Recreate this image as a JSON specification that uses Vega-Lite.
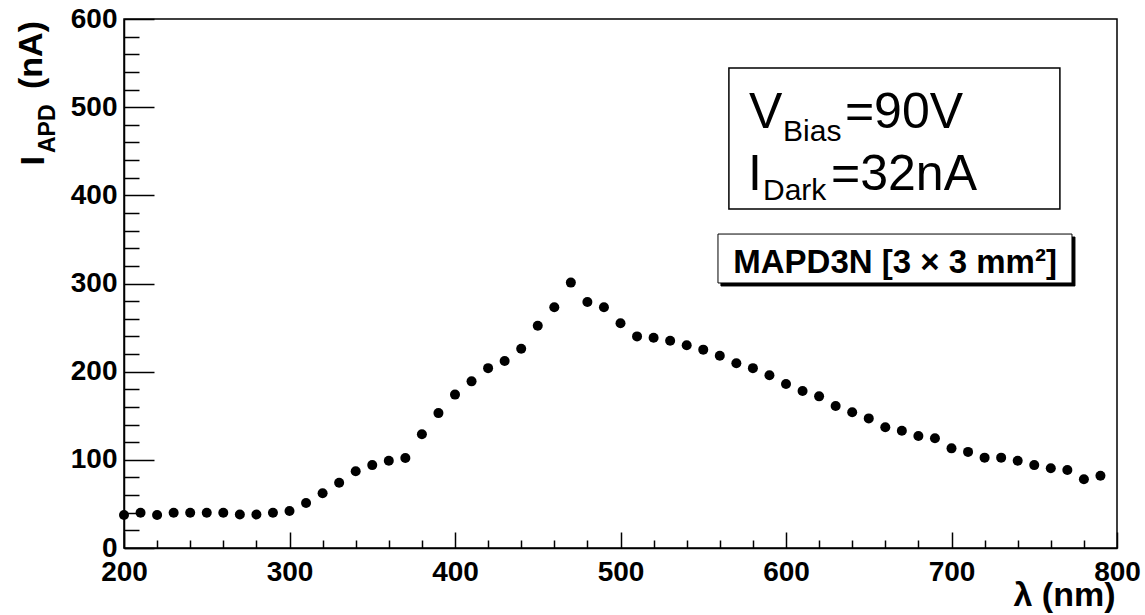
{
  "$schema": "https://vega.github.io/schema/vega-lite/v6.json",
  "width": 993,
  "height": 529,
  "autosize": {"type": "none"},
  "padding": {"left": 124, "top": 19, "right": 28, "bottom": 67},
  "background": "white",
  "resolve": {"axis": {"x": "independent", "y": "independent"}},
  "config": {
    "view": {"stroke": "black", "strokeWidth": 1.5},
    "font": "Liberation Sans",
    "axis": {
      "grid": false,
      "domainColor": "black",
      "domainWidth": 1.5,
      "tickColor": "black",
      "tickWidth": 1.5,
      "labelColor": "black",
      "labelFont": "Liberation Sans",
      "labelFontWeight": "bold",
      "labelFontSize": 28,
      "labelFlush": false,
      "labelOverlap": false,
      "titleColor": "black",
      "titleFont": "Liberation Sans",
      "titleFontWeight": "bold"
    }
  },
  "datasets": {
    "spectrum": [
      {"wavelength": 200, "current": 37.5},
      {"wavelength": 210, "current": 40},
      {"wavelength": 220, "current": 37.5},
      {"wavelength": 230, "current": 40},
      {"wavelength": 240, "current": 40},
      {"wavelength": 250, "current": 40},
      {"wavelength": 260, "current": 40},
      {"wavelength": 270, "current": 38},
      {"wavelength": 280, "current": 38},
      {"wavelength": 290, "current": 40},
      {"wavelength": 300, "current": 42},
      {"wavelength": 310, "current": 51},
      {"wavelength": 320, "current": 62},
      {"wavelength": 330, "current": 74},
      {"wavelength": 340, "current": 87},
      {"wavelength": 350, "current": 94},
      {"wavelength": 360, "current": 99},
      {"wavelength": 370, "current": 102},
      {"wavelength": 380, "current": 129},
      {"wavelength": 390, "current": 153},
      {"wavelength": 400, "current": 174},
      {"wavelength": 410, "current": 189},
      {"wavelength": 420, "current": 204},
      {"wavelength": 430, "current": 212},
      {"wavelength": 440, "current": 226},
      {"wavelength": 450, "current": 252},
      {"wavelength": 460, "current": 273},
      {"wavelength": 470, "current": 301},
      {"wavelength": 480, "current": 279},
      {"wavelength": 490, "current": 273},
      {"wavelength": 500, "current": 255},
      {"wavelength": 510, "current": 240},
      {"wavelength": 520, "current": 238.5},
      {"wavelength": 530, "current": 235},
      {"wavelength": 540, "current": 230},
      {"wavelength": 550, "current": 225},
      {"wavelength": 560, "current": 218},
      {"wavelength": 570, "current": 209.5},
      {"wavelength": 580, "current": 204},
      {"wavelength": 590, "current": 196},
      {"wavelength": 600, "current": 186},
      {"wavelength": 610, "current": 178},
      {"wavelength": 620, "current": 172},
      {"wavelength": 630, "current": 161},
      {"wavelength": 640, "current": 154},
      {"wavelength": 650, "current": 147},
      {"wavelength": 660, "current": 137},
      {"wavelength": 670, "current": 133},
      {"wavelength": 680, "current": 127},
      {"wavelength": 690, "current": 124.5},
      {"wavelength": 700, "current": 113},
      {"wavelength": 710, "current": 109},
      {"wavelength": 720, "current": 102.5},
      {"wavelength": 730, "current": 102.5},
      {"wavelength": 740, "current": 99},
      {"wavelength": 750, "current": 94},
      {"wavelength": 760, "current": 90.5},
      {"wavelength": 770, "current": 88.5},
      {"wavelength": 780, "current": 78},
      {"wavelength": 790, "current": 82}
    ]
  },
  "layer": [
    {
      "data": {"name": "spectrum"},
      "mark": {"type": "point", "shape": "circle", "filled": true, "size": 100, "color": "black", "opacity": 1},
      "encoding": {
        "x": {
          "field": "wavelength",
          "type": "quantitative",
          "scale": {"domain": [200, 800], "nice": false, "zero": false},
          "axis": {
            "values": [200,220,240,260,280,300,320,340,360,380,400,420,440,460,480,500,520,540,560,580,600,620,640,660,680,700,720,740,760,780,800],
            "tickSize": {"condition": {"test": "datum.value % 100 === 0", "value": -16}, "value": -8},
            "labelPadding": 26,
            "labelExpr": "datum.value % 100 === 0 ? datum.label : ''",
            "title": "λ (nm)",
            "titleFontSize": 34,
            "titleAlign": "right",
            "titleAnchor": "end",
            "titleBaseline": "alphabetic",
            "titleAngle": 0,
            "titleX": 991,
            "titleY": 57
          }
        },
        "y": {
          "field": "current",
          "type": "quantitative",
          "scale": {"domain": [0, 600], "nice": false, "zero": false},
          "axis": {
            "values": [0,20,40,60,80,100,120,140,160,180,200,220,240,260,280,300,320,340,360,380,400,420,440,460,480,500,520,540,560,580,600],
            "tickSize": {"condition": {"test": "datum.value % 100 === 0", "value": -30}, "value": -15},
            "labelPadding": 37,
            "labelExpr": "datum.value % 100 === 0 ? datum.label : ''",
            "title": "I",
            "titleFontSize": 34,
            "titleAngle": 270,
            "titleAlign": "left",
            "titleBaseline": "alphabetic",
            "titleX": -81,
            "titleY": 146
          }
        }
      }
    },
    {
      "data": {"values": [{}]},
      "mark": {"type": "text", "text": "APD", "font": "Liberation Sans", "fontWeight": "bold", "fontSize": 23, "angle": 270, "align": "left", "baseline": "alphabetic", "color": "black"},
      "encoding": {
        "x": {"datum": 158.3, "type": "quantitative", "axis": null},
        "y": {"datum": 448, "type": "quantitative", "axis": null}
      }
    },
    {
      "data": {"values": [{}]},
      "mark": {"type": "text", "text": "(nA)", "font": "Liberation Sans", "fontWeight": "bold", "fontSize": 34, "angle": 270, "align": "left", "baseline": "alphabetic", "color": "black"},
      "encoding": {
        "x": {"datum": 150.5, "type": "quantitative", "axis": null},
        "y": {"datum": 520.6, "type": "quantitative", "axis": null}
      }
    },
    {
      "data": {"values": [{}]},
      "mark": {"type": "rect", "fill": "white", "stroke": "black", "strokeWidth": 1.5},
      "encoding": {
        "x": {"datum": 565.5, "type": "quantitative", "axis": null},
        "x2": {"datum": 765.5},
        "y": {"datum": 544.5, "type": "quantitative", "axis": null},
        "y2": {"datum": 384.5}
      }
    },
    {
      "data": {"values": [{}]},
      "mark": {"type": "rect", "fill": "black", "stroke": "black", "strokeWidth": 1},
      "encoding": {
        "x": {"datum": 560.7, "type": "quantitative", "axis": null},
        "x2": {"datum": 774.6},
        "y": {"datum": 352.7, "type": "quantitative", "axis": null},
        "y2": {"datum": 297.2}
      }
    },
    {
      "data": {"values": [{}]},
      "mark": {"type": "rect", "fill": "white", "stroke": "black", "strokeWidth": 1},
      "encoding": {
        "x": {"datum": 558.9, "type": "quantitative", "axis": null},
        "x2": {"datum": 772.8},
        "y": {"datum": 356.1, "type": "quantitative", "axis": null},
        "y2": {"datum": 300.6}
      }
    },
    {
      "data": {"values": [{}]},
      "mark": {"type": "text", "text": "MAPD3N [3 × 3 mm²]", "font": "Liberation Sans", "fontWeight": "bold", "fontSize": 33, "align": "center", "baseline": "alphabetic", "color": "black"},
      "encoding": {
        "x": {"datum": 665.9, "type": "quantitative", "axis": null},
        "y": {"datum": 311.9, "type": "quantitative", "axis": null}
      }
    },
    {
      "data": {"values": [{}]},
      "mark": {"type": "text", "text": "V", "font": "Liberation Sans", "fontSize": 50, "align": "left", "baseline": "alphabetic", "color": "black"},
      "encoding": {
        "x": {"datum": 577.6, "type": "quantitative", "axis": null},
        "y": {"datum": 476.4, "type": "quantitative", "axis": null}
      }
    },
    {
      "data": {"values": [{}]},
      "mark": {"type": "text", "text": "Bias", "font": "Liberation Sans", "fontSize": 30, "align": "left", "baseline": "alphabetic", "color": "black"},
      "encoding": {
        "x": {"datum": 598.2, "type": "quantitative", "axis": null},
        "y": {"datum": 461.6, "type": "quantitative", "axis": null}
      }
    },
    {
      "data": {"values": [{}]},
      "mark": {"type": "text", "text": "=90V", "font": "Liberation Sans", "fontSize": 50, "align": "left", "baseline": "alphabetic", "color": "black"},
      "encoding": {
        "x": {"datum": 635.6, "type": "quantitative", "axis": null},
        "y": {"datum": 476.4, "type": "quantitative", "axis": null}
      }
    },
    {
      "data": {"values": [{}]},
      "mark": {"type": "text", "text": "I", "font": "Liberation Sans", "fontSize": 50, "align": "left", "baseline": "alphabetic", "color": "black"},
      "encoding": {
        "x": {"datum": 577.0, "type": "quantitative", "axis": null},
        "y": {"datum": 406.0, "type": "quantitative", "axis": null}
      }
    },
    {
      "data": {"values": [{}]},
      "mark": {"type": "text", "text": "Dark", "font": "Liberation Sans", "fontSize": 30, "align": "left", "baseline": "alphabetic", "color": "black"},
      "encoding": {
        "x": {"datum": 586.1, "type": "quantitative", "axis": null},
        "y": {"datum": 394.7, "type": "quantitative", "axis": null}
      }
    },
    {
      "data": {"values": [{}]},
      "mark": {"type": "text", "text": "=32nA", "font": "Liberation Sans", "fontSize": 50, "align": "left", "baseline": "alphabetic", "color": "black"},
      "encoding": {
        "x": {"datum": 627.2, "type": "quantitative", "axis": null},
        "y": {"datum": 406.0, "type": "quantitative", "axis": null}
      }
    }
  ]
}
